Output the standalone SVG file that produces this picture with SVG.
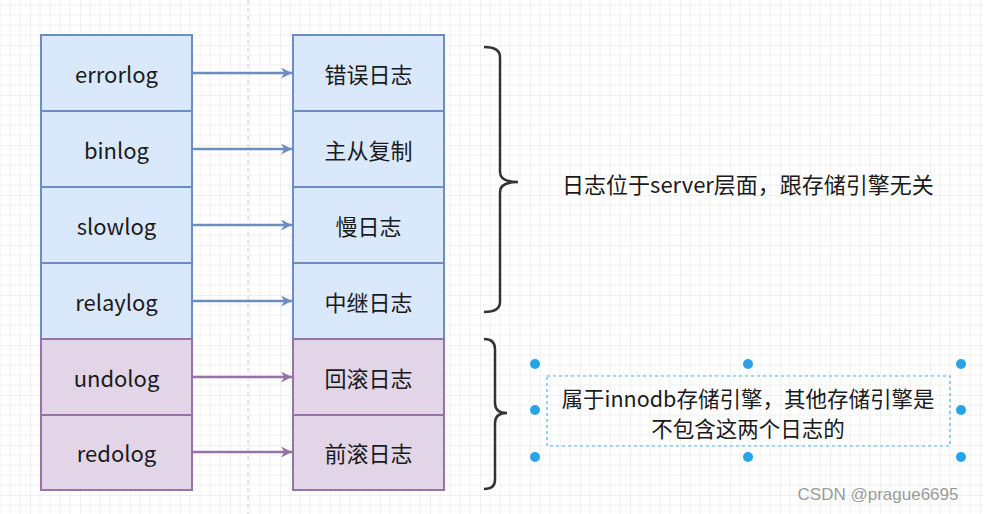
<svg xmlns="http://www.w3.org/2000/svg" width="984" height="514" viewBox="0 0 984 514">
<defs>
<pattern id="g" width="50" height="50" patternUnits="userSpaceOnUse" x="30" y="-5">
<path d="M10 0V50M20 0V50M30 0V50M40 0V50M0 10H50M0 20H50M0 30H50M0 40H50" stroke="#f0f0f0" stroke-width="1"/>
<path d="M0 0V50M0 0H50" stroke="#e2e2e2" stroke-width="1"/>
</pattern>
<marker id="ab" viewBox="0 0 10 10" refX="10" refY="5" markerWidth="11" markerHeight="11" markerUnits="userSpaceOnUse" orient="auto"><path d="M0 0L10 5L0 10L3 5Z" fill="#6c8ebf"/></marker>
<marker id="ap" viewBox="0 0 10 10" refX="10" refY="5" markerWidth="11" markerHeight="11" markerUnits="userSpaceOnUse" orient="auto"><path d="M0 0L10 5L0 10L3 5Z" fill="#9673a6"/></marker>
</defs>
<style>
.b rect{fill:#dae8fc;stroke:#6c8ebf;stroke-width:2}
.p rect{fill:#e1d5e7;stroke:#9673a6;stroke-width:2}
text{font-family:"Noto Sans CJK SC","Noto Sans",sans-serif;font-size:22px;fill:#1a1a1a;text-anchor:middle;dominant-baseline:central}
.cb{stroke:#6c8ebf;stroke-width:2.5;fill:none;marker-end:url(#ab)}
.cp{stroke:#9673a6;stroke-width:2.5;fill:none;marker-end:url(#ap)}
.br{stroke:#333;stroke-width:2.5;fill:none}
.h{fill:#29a3e8}
</style>
<rect width="984" height="514" fill="#fff"/>
<rect width="984" height="514" fill="url(#g)"/>
<line x1="248" y1="0" x2="248" y2="514" stroke="#ccc" stroke-dasharray="4 4"/>
<g id="n1" class="b"><rect x="41" y="35" width="151" height="76"/><text x="116.5" y="73">errorlog</text></g>
<g id="n2" class="b"><rect x="41" y="111" width="151" height="76"/><text x="116.5" y="149">binlog</text></g>
<g id="n3" class="b"><rect x="41" y="187" width="151" height="76"/><text x="116.5" y="225">slowlog</text></g>
<g id="n4" class="b"><rect x="41" y="263" width="151" height="76"/><text x="116.5" y="301">relaylog</text></g>
<g id="n5" class="p"><rect x="41" y="339" width="151" height="76"/><text x="116.5" y="377">undolog</text></g>
<g id="n6" class="p"><rect x="41" y="415" width="151" height="75"/><text x="116.5" y="452">redolog</text></g>
<g id="m1" class="b"><rect x="293" y="35" width="151" height="76"/><text x="368.5" y="73">错误日志</text></g>
<g id="m2" class="b"><rect x="293" y="111" width="151" height="76"/><text x="368.5" y="149">主从复制</text></g>
<g id="m3" class="b"><rect x="293" y="187" width="151" height="76"/><text x="368.5" y="225">慢日志</text></g>
<g id="m4" class="b"><rect x="293" y="263" width="151" height="76"/><text x="368.5" y="301">中继日志</text></g>
<g id="m5" class="p"><rect x="293" y="339" width="151" height="76"/><text x="368.5" y="377">回滚日志</text></g>
<g id="m6" class="p"><rect x="293" y="415" width="151" height="75"/><text x="368.5" y="452">前滚日志</text></g>
<g id="connectors">
<path class="cb" d="M193 73H292"/>
<path class="cb" d="M193 149H292"/>
<path class="cb" d="M193 225H292"/>
<path class="cb" d="M193 301H292"/>
<path class="cp" d="M193 377H292"/>
<path class="cp" d="M193 452H292"/>
</g>
<g id="brace1"><path class="br" d="M484 47Q500 47 500 57V172Q500 182 518 182Q500 182 500 192V302Q500 312 484 312"/></g>
<g id="brace2"><path class="br" d="M484 339Q495 339 495 349V403Q495 413 507 413Q495 413 495 423V480Q495 489 484 489"/></g>
<g id="t1"><text x="748" y="183">日志位于server层面，跟存储引擎无关</text></g>
<g id="t2">
<rect x="547" y="376" width="403" height="70" fill="none" stroke="#4fb4e0" stroke-dasharray="3 3" stroke-width="1.2"/>
<text x="748" y="397" style="font-size:21.5px">属于innodb存储引擎，其他存储引擎是</text>
<text x="748" y="427" style="font-size:21.5px">不包含这两个日志的</text>
<circle class="h" cx="535" cy="364" r="5"/><circle class="h" cx="748" cy="364" r="5"/><circle class="h" cx="961" cy="364" r="5"/>
<circle class="h" cx="535" cy="410" r="5"/><circle class="h" cx="961" cy="410" r="5"/>
<circle class="h" cx="535" cy="457" r="5"/><circle class="h" cx="748" cy="457" r="5"/><circle class="h" cx="961" cy="457" r="5"/>
</g>
<text x="878" y="494" style="font-family:'Liberation Sans',sans-serif;font-size:17px;fill:#9a9a9a">CSDN @prague6695</text>
</svg>
